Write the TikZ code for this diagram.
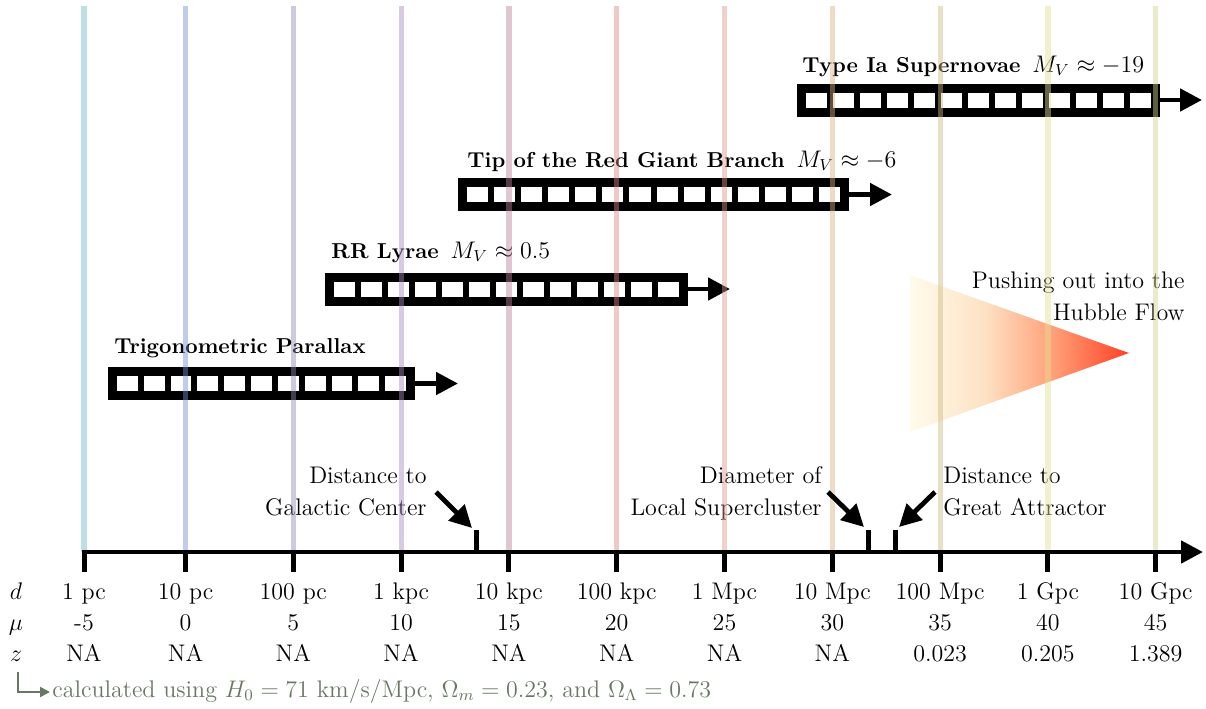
\documentclass[tikz,border=0pt]{standalone}
\usetikzlibrary{arrows.meta}
\definecolor{v1}{RGB}{113,185,201}
\definecolor{v2}{RGB}{113,145,209}
\definecolor{v3}{RGB}{145,137,185}
\definecolor{v4}{RGB}{169,137,193}
\definecolor{v5}{RGB}{185,129,153}
\definecolor{v6}{RGB}{217,137,129}
\definecolor{v7}{RGB}{217,153,137}
\definecolor{v8}{RGB}{217,177,129}
\definecolor{v9}{RGB}{209,185,129}
\definecolor{v10}{RGB}{225,225,145}
\definecolor{v11}{RGB}{209,209,145}
\definecolor{foot}{RGB}{105,120,100}
\definecolor{hA}{RGB}{255,251,236}
\definecolor{hB}{RGB}{253,226,196}
\definecolor{hC}{RGB}{255,158,118}
\definecolor{hD}{RGB}{255,64,36}
\pgfdeclarehorizontalshading{hubble}{100bp}{color(0bp)=(hA); color(25bp)=(hA); color(42bp)=(hB); color(58bp)=(hC); color(75bp)=(hD); color(100bp)=(hD)}
\newcommand\ladderbar[4]{%
  \fill[black] (#1,#3-16.5) rectangle (#2,#3+16.5);
  \pgfmathsetmacro\lp{(#2-#1-18+6)/#4}%
  \pgfmathsetmacro\lw{\lp-6}%
  \foreach \k in {1,...,#4}{\fill[white] ({#1+9+(\k-1)*\lp},#3-7.5) rectangle ++(\lw,15);}%
}
\begin{document}
\begin{tikzpicture}[x=0.5pt,y=-0.5pt,
  vline/.style={line width=2.6pt, draw opacity=0.45},
  arr/.style={-{Triangle[length=11pt,width=11pt]}, line width=2.4pt},
  tickmark/.style={line width=2.5pt},
  lbl/.style={font=\fontsize{12}{16}\selectfont, inner sep=0pt},
  ttl/.style={font=\fontsize{10.8}{13}\selectfont\bfseries, inner sep=0pt},
  mth/.style={font=\fontsize{12}{14}\selectfont, inner sep=0pt},
  ]
\useasboundingbox (0,0) rectangle (1206,708);

% Hubble flow wedge
\shade[shading=hubble] (910,275) -- (1129,353) -- (910,432) -- cycle;
\node[lbl, anchor=base east, align=right] (hubble) at (1185,320) {Pushing out into the\\Hubble Flow};

% ladders
\ladderbar{108}{415}{383.5}{11}
\ladderbar{325}{688}{289}{13}
\ladderbar{458}{849}{194.5}{14}
\ladderbar{797}{1160}{100}{13}
\coordinate (trigEnd) at (415,383.5);  \coordinate (trigTip) at (458,383.5);
\coordinate (rrEnd) at (688,289);      \coordinate (rrTip) at (730,289);
\coordinate (trgbEnd) at (849,194.5);  \coordinate (trgbTip) at (892,194.5);
\coordinate (snEnd) at (1160,100);     \coordinate (snTip) at (1202,100);
\draw[arr] (trigEnd) -- (trigTip);
\draw[arr] (rrEnd) -- (rrTip);
\draw[arr] (trgbEnd) -- (trgbTip);
\draw[arr] (snEnd) -- (snTip);

% ladder titles
\node[ttl, anchor=base west] (tsn) at (802,72) {Type Ia Supernovae\hspace{6pt}{\mdseries\fontsize{12}{14}\selectfont$M_V \approx -19$}};
\node[ttl, anchor=base west] (ttrgb) at (467,167) {Tip of the Red Giant Branch\hspace{6pt}{\mdseries\fontsize{12}{14}\selectfont$M_V \approx -6$}};
\node[ttl, anchor=base west] (trr) at (331,258) {RR Lyrae\hspace{6pt}{\mdseries\fontsize{12}{14}\selectfont$M_V \approx 0.5$}};
\node[ttl, anchor=base west] (ttrig) at (114,353) {Trigonometric Parallax};

% marker labels
\node[lbl, anchor=base east, align=right] (gc) at (427,515) {Distance to\\Galactic Center};
\node[lbl, anchor=base east, align=right] (ls) at (822,515) {Diameter of\\Local Supercluster};
\node[lbl, anchor=base west, align=left] (ga) at (943,515) {Distance to\\Great Attractor};

% vertical lines
\foreach \x [count=\i] in {84,185.5,293.3,401.1,508.9,616.7,724.5,832.3,940.1,1047.9,1155.7}{
  \coordinate (top\i) at (\x,6);
  \coordinate (ax\i) at (\x,552);
  \draw[vline, v\i] (top\i) -- (ax\i);
}

% axis
\coordinate (axStart) at (82,552);
\coordinate (axEnd) at (1203,552);
\draw[arr] (axStart) -- (axEnd);
\foreach \i in {1,...,11}{
  \draw[tickmark] (ax\i) -- ++(0,20);
}

% marker ticks and arrows
\coordinate (gcA) at (476,552); \coordinate (gcB) at (476,530);
\coordinate (lsA) at (868,552); \coordinate (lsB) at (868,530);
\coordinate (gaA) at (895,552); \coordinate (gaB) at (895,530);
\draw[tickmark] (gcA) -- (gcB);
\draw[tickmark] (lsA) -- (lsB);
\draw[tickmark] (gaA) -- (gaB);
\coordinate (gcFrom) at (436,492); \coordinate (gcTo) at (472,528);
\coordinate (lsFrom) at (828,492); \coordinate (lsTo) at (864,527);
\coordinate (gaFrom) at (935,492); \coordinate (gaTo) at (899,527);
\draw[arr] (gcFrom) -- (gcTo);
\draw[arr] (lsFrom) -- (lsTo);
\draw[arr] (gaFrom) -- (gaTo);

% row labels
\node[mth, anchor=base] (rd) at (16,599) {$d$};
\node[mth, anchor=base] (rmu) at (16,630) {$\mu$};
\node[mth, anchor=base] (rz) at (16,661) {$z$};
\foreach \x/\d/\m/\z [count=\i] in {84/1 pc/-5/NA, 185.5/10 pc/0/NA, 293.3/100 pc/5/NA, 401.1/1 kpc/10/NA, 508.9/10 kpc/15/NA, 616.7/100 kpc/20/NA, 724.5/1 Mpc/25/NA, 832.3/10 Mpc/30/NA, 940.1/100 Mpc/35/0.023, 1047.9/1 Gpc/40/0.205, 1155.7/10 Gpc/45/1.389}{
  \node[lbl, anchor=base] (d\i) at (\x,599) {\d};
  \node[lbl, anchor=base] (m\i) at (\x,630) {\m};
  \node[lbl, anchor=base] (z\i) at (\x,661) {\z};
}

% footnote
\coordinate (hk1) at (18,672); \coordinate (hk2) at (18,692); \coordinate (hk3) at (50,692);
\draw[foot, line width=1pt, -{Triangle[length=5pt,width=5pt]}] (hk1) -- (hk2) -- (hk3);
\node[lbl, anchor=base west, text=foot] (fn) at (52,697) {calculated using $H_0 = 71$ km/s/Mpc, $\Omega_m = 0.23$, and $\Omega_\Lambda = 0.73$};
\end{tikzpicture}
\end{document}
